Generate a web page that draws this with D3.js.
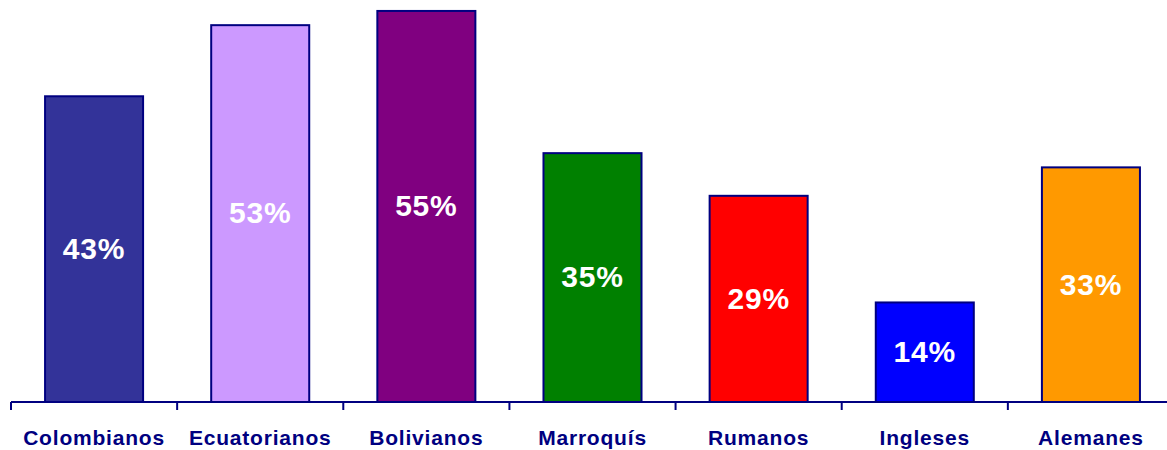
<!DOCTYPE html>
<html>
<head>
<meta charset="utf-8">
<script src="https://cdn.jsdelivr.net/npm/d3@7"></script>
<style>
  body { margin: 0; background: #fff; }
  svg { display: block; }
</style>
</head>
<body>
<svg id="chart"></svg>
<script>
// chart data
const categories = ["Colombianos", "Ecuatorianos", "Bolivianos", "Marroquís", "Rumanos", "Ingleses", "Alemanes"];
const values = [43, 53, 55, 35, 29, 14, 33];
const colors = ["#333399", "#CC99FF", "#800080", "#008000", "#FF0000", "#0000FF", "#FF9900"];

const W = 1167, H = 450;
const navy = "#000080";

const svg = d3.select("#chart")
  .attr("width", W)
  .attr("height", H);

// band scale runs a bit past the right edge, like the original
const x = d3.scaleBand()
  .domain(categories)
  .range([11, 1174])
  .paddingInner(0.41)
  .paddingOuter(0.205);

const y = d3.scaleLinear()
  .domain([0, 60])
  .range([402, -24.6]);

// bars
svg.append("g")
  .selectAll("rect")
  .data(values)
  .join("rect")
    .attr("x", (d, i) => x(categories[i]))
    .attr("y", d => y(d))
    .attr("width", x.bandwidth())
    .attr("height", d => y(0) - y(d))
    .attr("fill", (d, i) => colors[i])
    .attr("stroke", navy)
    .attr("stroke-width", 2);

// value labels in the middle of each bar
svg.append("g")
  .selectAll("text")
  .data(values)
  .join("text")
    .attr("x", (d, i) => x(categories[i]) + x.bandwidth() / 2)
    .attr("y", d => (y(d) + y(0)) / 2)
    .attr("dy", "0.33em")
    .attr("text-anchor", "middle")
    .attr("fill", "#fff")
    .style("font-family", "'Liberation Sans', Arial, sans-serif")
    .style("font-weight", "bold")
    .style("font-size", "30px")
    .style("letter-spacing", "0.8px")
    .text(d => d + "%");

// x axis: ticks on band boundaries, labels below
const step = x.step();
const boundaries = d3.range(categories.length + 1).map(i => 11 + i * step);
const axis = svg.append("g");
axis.append("line")
  .attr("x1", 11).attr("x2", W)
  .attr("y1", y(0)).attr("y2", y(0))
  .attr("stroke", navy)
  .attr("stroke-width", 2);
axis.selectAll(".tick")
  .data(boundaries)
  .join("line")
    .attr("class", "tick")
    .attr("x1", d => d).attr("x2", d => d)
    .attr("y1", y(0)).attr("y2", y(0) + 8)
    .attr("stroke", navy)
    .attr("stroke-width", 2);

svg.append("g")
  .selectAll("text")
  .data(categories)
  .join("text")
    .attr("x", d => x(d) + x.bandwidth() / 2)
    .attr("y", 445)
    .attr("text-anchor", "middle")
    .attr("fill", navy)
    .style("font-family", "'Liberation Sans', Arial, sans-serif")
    .style("font-weight", "bold")
    .style("font-size", "21px")
    .style("letter-spacing", "0.8px")
    .text(d => d);
</script>
</body>
</html>
